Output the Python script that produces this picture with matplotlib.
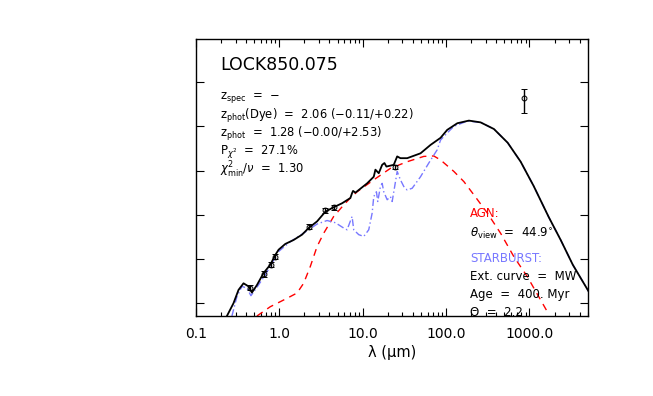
import matplotlib
matplotlib.use("Agg")
import matplotlib.pyplot as plt
import numpy as np
from matplotlib.ticker import LogLocator, NullFormatter, FixedLocator

# modelo total (negro): log10 longitud de onda (um) y log nuFnu (unidades arbitrarias)
loglam_total = [-0.628, -0.549, -0.489, -0.429, -0.369, -0.328, -0.268, -0.189, -0.108,
                -0.048, -0.008, 0.072, 0.172, 0.273, 0.352, 0.453, 0.553, 0.652, 0.753,
                0.853, 0.873, 0.885, 0.913, 1.053, 1.133, 1.153, 1.193, 1.234, 1.261,
                1.285, 1.373, 1.414, 1.453, 1.534, 1.694, 1.814, 1.934, 2.014, 2.135,
                2.274, 2.414, 2.574, 2.739, 2.895, 3.051, 3.231, 3.375, 3.520, 3.712]
logf_total = [-0.29, 0.00, 0.30, 0.45, 0.38, 0.24, 0.41, 0.68, 0.87,
              1.09, 1.21, 1.34, 1.43, 1.55, 1.70, 1.85, 2.07, 2.17, 2.26,
              2.38, 2.49, 2.54, 2.50, 2.71, 2.86, 3.02, 2.94, 3.13, 3.17,
              3.09, 3.13, 3.32, 3.28, 3.28, 3.39, 3.58, 3.74, 3.92, 4.07,
              4.13, 4.09, 3.94, 3.63, 3.20, 2.65, 1.95, 1.43, 0.87, 0.26]

# componente AGN (rojo, discontinua)
loglam_agn = [-0.268, -0.108, 0.092, 0.213, 0.292, 0.372, 0.453, 0.532, 0.652, 0.772,
              0.853, 0.933, 1.133, 1.333, 1.534, 1.733, 1.853, 1.934, 2.094, 2.214,
              2.334, 2.495, 2.655, 2.814, 2.975, 3.135, 3.235]
logf_agn = [-0.29, -0.08, 0.11, 0.23, 0.45, 0.83, 1.28, 1.58, 1.96, 2.22,
            2.38, 2.52, 2.79, 3.05, 3.20, 3.32, 3.33, 3.24, 2.98, 2.75,
            2.45, 2.04, 1.58, 1.05, 0.60, 0.07, -0.26]

# componente starburst (azul, punto-raya)
loglam_sb = [-0.568, -0.508, -0.448, -0.388, -0.340, -0.268, -0.168, -0.008, 0.132, 0.352,
             0.453, 0.573, 0.673, 0.772, 0.813, 0.873, 0.893, 0.953, 1.013, 1.073,
             1.114, 1.133, 1.165, 1.181, 1.213, 1.234, 1.253, 1.294, 1.333, 1.354,
             1.414, 1.453, 1.493, 1.534, 1.594, 1.694, 1.793, 1.894, 1.934, 2.014,
             2.094, 2.255, 2.414, 2.574, 2.739, 2.895, 3.051, 3.231, 3.375, 3.520, 3.712]
logf_sb = [-0.29, 0.15, 0.38, 0.34, 0.17, 0.36, 0.64, 1.17, 1.39, 1.66,
           1.79, 1.87, 1.82, 1.70, 1.66, 1.96, 1.66, 1.55, 1.51, 1.66,
           2.04, 2.41, 2.52, 2.30, 2.64, 2.71, 2.52, 2.34, 2.41, 2.30,
           2.98, 2.79, 2.64, 2.56, 2.60, 2.86, 3.17, 3.47, 3.69, 3.85,
           4.00, 4.12, 4.09, 3.94, 3.63, 3.20, 2.65, 1.95, 1.43, 0.87, 0.26]

# fotometria observada
lam_obs = [0.449, 0.648, 0.80, 0.895, 2.25, 3.57, 4.49, 24.1, 860]
logf_obs = [0.35, 0.66, 0.87, 1.05, 1.73, 2.10, 2.17, 3.08, 4.64]
err_lo = [0.06, 0.06, 0.06, 0.06, 0.06, 0.06, 0.06, 0.05, 0.34]
err_hi = [0.06, 0.06, 0.06, 0.06, 0.06, 0.06, 0.06, 0.05, 0.20]

fig = plt.figure(figsize=(6.53, 3.96), dpi=100)
ax = fig.add_axes([0.300, 0.202, 0.600, 0.700])

azul = '#7878ff'
ax.plot(np.power(10.0, loglam_agn), logf_agn, color='red', ls=(0, (5, 4)), lw=1.0)
ax.plot(np.power(10.0, loglam_sb), logf_sb, color=azul, ls=(0, (5, 2, 1, 2)), lw=1.0)
ax.plot(np.power(10.0, loglam_total), logf_total, color='black', lw=1.3)
ax.errorbar(lam_obs, logf_obs, yerr=[err_lo, err_hi], fmt='o', ms=3.5,
            mfc='none', mec='black', mew=0.7, ecolor='black', elinewidth=1.0,
            capsize=2, capthick=1.0, zorder=5)

ax.set_xscale('log')
ax.set_xlim(0.1, 5000)
ax.set_ylim(-0.29, 5.98)
ax.xaxis.set_major_locator(FixedLocator([0.1, 1, 10, 100, 1000]))
ax.set_xticklabels(['0.1', '1.0', '10.0', '100.0', '1000.0'])
ax.xaxis.set_minor_locator(LogLocator(base=10, subs=np.arange(2, 10), numticks=20))
ax.xaxis.set_minor_formatter(NullFormatter())
ax.yaxis.set_major_locator(FixedLocator([0, 1, 2, 3, 4, 5]))
ax.set_yticklabels([])
ax.tick_params(which='both', direction='in', top=True, right=True, width=0.8)
ax.tick_params(which='major', length=6, labelsize=10, pad=8)
ax.tick_params(which='minor', length=3)
for s in ax.spines.values():
    s.set_linewidth(1.0)
ax.set_xlabel('λ (μm)', fontsize=10.5, labelpad=3)

# textos de la izquierda
tx = 0.061
ax.text(tx, 0.905, 'LOCK850.075', transform=ax.transAxes, fontsize=12.5, va='center')
lineas = [r'z$_{\rm spec}$  =  $-$',
          r'z$_{\rm phot}$(Dye)  =  2.06 ($-$0.11/+0.22)',
          r'z$_{\rm phot}$  =  1.28 ($-$0.00/+2.53)',
          r'P$_{\chi^2}$  =  27.1%',
          r'$\chi^2_{\rm min}/\nu$  =  1.30']
ys = [0.787, 0.722, 0.657, 0.592, 0.527]
for t, y in zip(lineas, ys):
    ax.text(tx, y, t, transform=ax.transAxes, fontsize=8.3, va='center')

# textos de la derecha
rx = 0.699
ax.text(rx, 0.368, 'AGN:', color='red', transform=ax.transAxes, fontsize=8.5, va='center')
ax.text(rx, 0.298, r'$\theta_{\rm view}$  =  44.9$^{\circ}$', transform=ax.transAxes, fontsize=8.5, va='center')
ax.text(rx, 0.208, 'STARBURST:', color=azul, transform=ax.transAxes, fontsize=8.5, va='center')
ax.text(rx, 0.141, 'Ext. curve  =  MW', transform=ax.transAxes, fontsize=8.5, va='center')
ax.text(rx, 0.076, 'Age  =  400. Myr', transform=ax.transAxes, fontsize=8.5, va='center')
ax.text(rx, 0.012, 'Θ  =  2.2', transform=ax.transAxes, fontsize=8.5, va='center')

fig.savefig('out.png', dpi=100)
